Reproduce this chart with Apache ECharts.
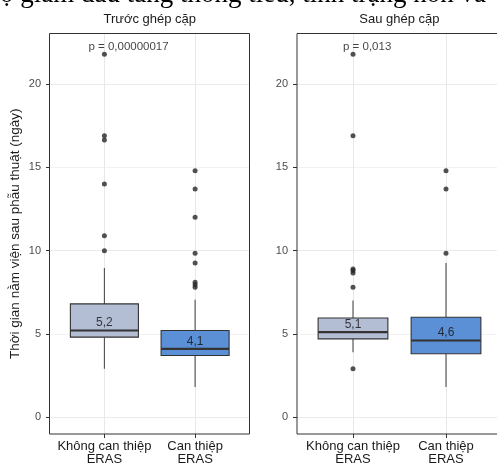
<!DOCTYPE html>
<html>
<head>
<meta charset="utf-8">
<script src="https://cdn.jsdelivr.net/npm/echarts@6/dist/echarts.min.js"></script>
<style>
  html, body { margin: 0; padding: 0; background: #ffffff; }
  #chart { width: 497px; height: 465px; }
</style>
</head>
<body>
<div id="chart"></div>
<script>
// ---------- data ----------
const categories = ['Không can thiệp\nERAS', 'Can thiệp\nERAS'];
const panelTitles = ['Trước ghép cặp', 'Sau ghép cặp'];
const yTickValues = [0, 5, 10, 15, 20];

// Before matching (Trước ghép cặp)
const beforeWhiskerLow = [2.9, 1.8];
const beforeQ1 = [4.8, 3.7];
const beforeMedian = [5.2, 4.1];
const beforeQ3 = [6.8, 5.2];
const beforeWhiskerHigh = [8.95, 7.05];
const beforeOutliersNoEras = [10.0, 10.9, 14.0, 16.65, 16.9, 21.8];
const beforeOutliersEras = [7.8, 7.95, 8.1, 9.25, 9.85, 12.0, 13.7, 14.8];
const beforePText = 'p = 0,00000017';

// After matching (Sau ghép cặp)
const afterWhiskerLow = [3.9, 1.8];
const afterQ1 = [4.7, 3.8];
const afterMedian = [5.1, 4.6];
const afterQ3 = [5.95, 6.0];
const afterWhiskerHigh = [7.0, 9.25];
const afterOutliersNoEras = [2.9, 7.8, 8.65, 8.8, 8.9, 16.9, 21.8];
const afterOutliersEras = [9.85, 13.7, 14.8];
const afterPText = 'p = 0,013';

const yTitle = 'Thời gian nằm viện sau phẫu thuật (ngày)';
const topCutText = 'ộ giảm đau tăng thông tiểu, tình trạng nôn và';

// ---------- styles ----------
const FONT = '"Liberation Sans", Arial, Helvetica, sans-serif';
const boxFills = ['#b3bdd4', '#5b8fd6'];
const pLabelY = 22.3;
const Y_MIN = -1.02, Y_MAX = 23.05;

function boxData(wl, q1, med, q3, wh) {
  return categories.map((c, i) => [i, wl[i], q1[i], med[i], q3[i], wh[i]]);
}
function outlierData(a, b) {
  return a.map(v => [0, v]).concat(b.map(v => [1, v]));
}
function renderBox(params, api) {
  const i = api.value(0);
  const w = api.size([1, 0])[0] * 0.75;
  const pLow = api.coord([i, api.value(1)]);
  const pQ1 = api.coord([i, api.value(2)]);
  const pMed = api.coord([i, api.value(3)]);
  const pQ3 = api.coord([i, api.value(4)]);
  const pHigh = api.coord([i, api.value(5)]);
  const pTop = api.coord([i, Y_MAX]);
  const pBot = api.coord([i, Y_MIN]);
  const x = pMed[0];
  const gx = Math.round(x) + 0.5;
  const wStyle = { stroke: '#4d4d4d', lineWidth: 1.1 };
  return {
    type: 'group',
    children: [
      // vertical major grid line at the category + axis tick below the panel
      { type: 'line', shape: { x1: gx, y1: pTop[1], x2: gx, y2: pBot[1] }, style: { stroke: '#e8e8e8', lineWidth: 1 } },
      { type: 'line', shape: { x1: gx, y1: pBot[1], x2: gx, y2: pBot[1] + 4 }, style: { stroke: '#333333', lineWidth: 1 } },
      { type: 'line', shape: { x1: x, y1: pLow[1], x2: x, y2: pQ1[1] }, style: wStyle },
      { type: 'line', shape: { x1: x, y1: pQ3[1], x2: x, y2: pHigh[1] }, style: wStyle },
      { type: 'rect', shape: { x: x - w / 2, y: pQ3[1], width: w, height: pQ1[1] - pQ3[1] },
        style: { fill: boxFills[i], stroke: '#333333', lineWidth: 1.1 } },
      { type: 'line', shape: { x1: x - w / 2, y1: pMed[1], x2: x + w / 2, y2: pMed[1] },
        style: { stroke: '#333333', lineWidth: 2.2 } }
    ]
  };
}

// panel geometry
const panels = [
  { frameLeft: 49.5, frameWidth: 200, axisLeft: 50, axisWidth: 199.5, dataLeft: 104.4, step: 90.7, titleX: 149.75 },
  { frameLeft: 297, frameWidth: 210, axisLeft: 297, axisWidth: 205, dataLeft: 353, step: 93, titleX: 399.4 }
];
const TOP = 33.5, HEIGHT = 400.5;
const AX_TOP = 42.6, AX_HEIGHT = 374.4;

const grid = [], xAxis = [], yAxis = [], series = [];
panels.forEach((p, k) => {
  grid.push({ left: p.frameLeft, top: TOP, width: p.frameWidth, height: HEIGHT, show: true, outerBoundsMode: 'none',
    borderColor: '#333333', borderWidth: 1, backgroundColor: 'transparent', z: 5 });
  grid.push({ left: p.axisLeft, top: AX_TOP, width: p.axisWidth, height: AX_HEIGHT, outerBoundsMode: 'none' });
  grid.push({ left: p.dataLeft, top: TOP, width: p.step, height: HEIGHT, outerBoundsMode: 'none' });
  const g0 = k * 3;
  xAxis.push({ gridIndex: g0, type: 'value', show: false, min: 0, max: 1 });
  yAxis.push({ gridIndex: g0, type: 'value', min: Y_MIN, max: Y_MAX, show: k === 0,
    axisLine: { show: false }, axisTick: { show: false }, axisLabel: { show: false }, splitLine: { show: false },
    name: k === 0 ? yTitle : '', nameLocation: 'middle', nameGap: 27,
    nameTextStyle: { fontSize: 13.5, color: '#1a1a1a', fontFamily: FONT } });

  xAxis.push({ gridIndex: g0 + 1, type: 'value', show: false, min: 0, max: 1 });
  yAxis.push({ gridIndex: g0 + 1, type: 'value', min: 0, max: 22.5, interval: 2.5,
    axisLine: { show: false },
    axisTick: { show: true, length: 4, customValues: yTickValues, lineStyle: { color: '#333333' } },
    axisLabel: { customValues: yTickValues, color: '#4d4d4d', fontSize: 11, margin: 9, fontFamily: FONT },
    splitLine: { show: true, lineStyle: { color: ['#ebebeb', '#f2f2f2'], width: 1 } } });

  xAxis.push({ gridIndex: g0 + 2, type: 'category', data: categories, boundaryGap: false,
    axisLine: { show: false, onZero: false },
    axisTick: { show: false },
    axisLabel: { color: '#1a1a1a', fontSize: 13, lineHeight: 13, margin: 6, fontFamily: FONT, interval: 0 },
    splitLine: { show: false } });
  yAxis.push({ gridIndex: g0 + 2, type: 'value', min: Y_MIN, max: Y_MAX, show: false, splitLine: { show: false } });
});

const panelData = [
  { box: boxData(beforeWhiskerLow, beforeQ1, beforeMedian, beforeQ3, beforeWhiskerHigh),
    out: outlierData(beforeOutliersNoEras, beforeOutliersEras), med: beforeMedian, p: beforePText, pOffset: -16.5 },
  { box: boxData(afterWhiskerLow, afterQ1, afterMedian, afterQ3, afterWhiskerHigh),
    out: outlierData(afterOutliersNoEras, afterOutliersEras), med: afterMedian, p: afterPText, pOffset: -10.5 }
];
panelData.forEach((d, k) => {
  const xi = k * 3 + 2, yi = k * 3 + 2;
  series.push({ type: 'custom', xAxisIndex: xi, yAxisIndex: yi, renderItem: renderBox,
    encode: { x: 0, y: [1, 2, 3, 4, 5] }, data: d.box, z: 2, clip: false });
  series.push({ type: 'scatter', xAxisIndex: xi, yAxisIndex: yi, data: d.out, symbolSize: 5,
    itemStyle: { color: '#262626' }, z: 3, clip: false });
  series.push({ type: 'scatter', xAxisIndex: xi, yAxisIndex: yi, symbolSize: 1, clip: false, z: 4,
    itemStyle: { color: 'transparent' },
    data: d.med.map((v, i) => [i, v]),
    label: { show: true, position: 'top', distance: 1,
      formatter: (pp) => String(pp.value[1]).replace('.', ','),
      color: '#111111', fontSize: 12, fontFamily: FONT } });
  series.push({ type: 'scatter', xAxisIndex: xi, yAxisIndex: yi, symbolSize: 1, clip: false, z: 4,
    itemStyle: { color: 'transparent' },
    data: [[0, pLabelY]],
    label: { show: true, position: 'right', distance: 0, offset: [d.pOffset, 1],
      formatter: d.p, color: '#111111', fontSize: 11.5, fontFamily: FONT } });
});

const chart = echarts.init(document.getElementById('chart'), null, { renderer: 'canvas' });
chart.setOption({
  animation: false,
  backgroundColor: '#ffffff',
  textStyle: { fontFamily: FONT },
  title: panelTitles.map((t, k) => ({
    text: t, left: panels[k].titleX, top: 12.5, textAlign: 'center', padding: 0,
    textStyle: { fontSize: 13, fontWeight: 'normal', color: '#1a1a1a', fontFamily: FONT }
  })),
  graphic: [{ type: 'text', left: 0, top: -19, silent: true,
    style: { text: topCutText, font: '27px "Liberation Serif", "DejaVu Serif", serif', fill: '#000000' } }],
  grid: grid,
  xAxis: xAxis,
  yAxis: yAxis,
  series: series
});
</script>
</body>
</html>
